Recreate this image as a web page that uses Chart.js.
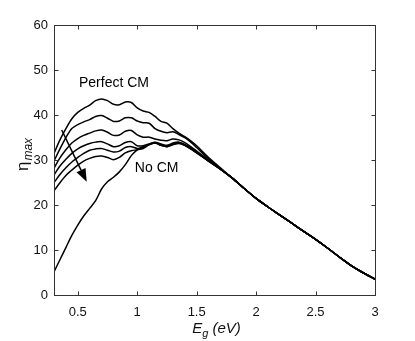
<!DOCTYPE html>
<html><head><meta charset="utf-8">
<script src="https://cdn.jsdelivr.net/npm/chart.js@4"></script>
<style>html,body{margin:0;padding:0;background:#fff}canvas{display:block}</style>
</head><body>
<canvas id="c" width="415" height="341"></canvas>
<script>
const energies = [0.3,0.35,0.4,0.45,0.5,0.55,0.6,0.65,0.7,0.75,0.8,0.85,0.9,0.95,1.0,1.05,1.1,1.15,1.2,1.25,1.3,1.35,1.4,1.45,1.5,1.6,1.7,1.8,1.9,2.0,2.1,2.2,2.3,2.4,2.5,2.6,2.7,2.8,2.9,3.0];
const tail = [26.0,23.7,21.5,19.6,17.8,16.0,14.2,12.4,10.5,8.5,6.6,5.0,3.6];
const perfectCM = [31.5,34.5,37.0,39.2,40.6,41.5,42.2,43.2,43.6,43.2,42.4,42.3,42.9,42.8,41.6,40.9,40.6,39.7,38.6,38.2,37.0,36.0,35.2,34.3,33.2,30.6,28.3].concat(tail);
const cm2 = [29.8,32.5,35.0,37.0,37.9,38.5,39.0,39.7,39.9,39.3,38.6,38.7,39.4,39.4,38.7,38.3,38.2,37.0,36.4,36.1,36.3,35.7,35.0,34.0,32.8,30.3,28.1].concat(tail);
const cm3 = [28.2,30.5,32.3,33.8,34.8,35.5,36.0,36.5,36.7,36.2,35.5,35.6,36.4,36.6,35.6,35.1,35.1,34.7,34.4,34.3,34.7,34.5,33.9,33.0,32.0,30.0,28.0].concat(tail);
const cm4 = [26.7,28.7,30.2,31.5,32.5,33.2,33.7,34.0,34.1,33.6,33.0,33.2,33.9,34.1,33.2,33.2,33.6,34.0,33.6,33.3,33.8,34.0,33.5,32.7,31.8,29.9,28.0].concat(tail);
const cm5 = [25.0,26.8,28.3,29.6,30.6,31.5,32.2,32.5,32.6,32.2,31.8,32.0,32.8,33.0,32.6,32.8,33.5,33.9,33.4,33.1,33.6,33.9,33.4,32.6,31.7,29.8,28.0].concat(tail);
const cm6 = [23.2,25.0,26.6,27.8,28.9,29.8,30.4,30.8,30.9,30.6,30.1,30.6,31.6,32.1,32.3,32.6,33.4,33.8,33.3,33.0,33.5,33.8,33.3,32.5,31.6,29.8,28.0].concat(tail);
const noCM = [5.2,7.9,10.6,13.3,15.6,17.6,19.3,21.0,23.6,25.2,26.2,27.4,29.0,31.0,32.3,33.0,33.5,33.8,33.3,33.0,33.4,33.7,33.3,32.5,31.6,29.8,28.0].concat(tail);
const seriesList = [perfectCM, cm2, cm3, cm4, cm5, cm6, noCM];
const xTicks = [0.5,1,1.5,2,2.5,3];
const yTicks = [0,10,20,30,40,50,60];
const arrowFrom = [0.365, 36.7];
const arrowTo = [0.575, 25.2];
const labelPerfect = ["Perfect CM", 0.51, 46.2];
const labelNo = ["No CM", 0.98, 27.3];

const FONT = '"Liberation Sans", Arial, sans-serif';

const deco = {
  id: 'deco',
  afterDraw(chart) {
    const ctx = chart.ctx, a = chart.chartArea, xs = chart.scales.x, ys = chart.scales.y;
    ctx.save();
    // frame
    ctx.strokeStyle = '#333';
    ctx.lineWidth = 1;
    const L = Math.round(a.left)+0.5, R = Math.round(a.right)+0.5, T = Math.round(a.top)+0.5, B = Math.round(a.bottom)+0.5;
    ctx.strokeRect(L, T, R-L, B-T);
    // inward ticks
    const tl = 4;
    ctx.beginPath();
    xTicks.forEach(v => {
      const px = Math.round(xs.getPixelForValue(v))+0.5;
      ctx.moveTo(px, B); ctx.lineTo(px, B - tl);
      ctx.moveTo(px, T); ctx.lineTo(px, T + tl);
    });
    yTicks.forEach(v => {
      const py = Math.round(ys.getPixelForValue(v))+0.5;
      ctx.moveTo(L, py); ctx.lineTo(L + tl, py);
      ctx.moveTo(R, py); ctx.lineTo(R - tl, py);
    });
    ctx.stroke();
    // arrow
    const x1 = xs.getPixelForValue(arrowFrom[0]), y1 = ys.getPixelForValue(arrowFrom[1]);
    const x2 = xs.getPixelForValue(arrowTo[0]), y2 = ys.getPixelForValue(arrowTo[1]);
    const ang = Math.atan2(y2-y1, x2-x1);
    const hl = 13, hw = 5;
    ctx.strokeStyle = '#000'; ctx.fillStyle = '#000'; ctx.lineWidth = 1.5;
    ctx.beginPath();
    ctx.moveTo(x1, y1);
    ctx.lineTo(x2 - hl*Math.cos(ang), y2 - hl*Math.sin(ang));
    ctx.stroke();
    ctx.beginPath();
    ctx.moveTo(x2, y2);
    ctx.lineTo(x2 - hl*Math.cos(ang) + hw*Math.sin(ang), y2 - hl*Math.sin(ang) - hw*Math.cos(ang));
    ctx.lineTo(x2 - hl*Math.cos(ang) - hw*Math.sin(ang), y2 - hl*Math.sin(ang) + hw*Math.cos(ang));
    ctx.closePath();
    ctx.fill();
    // curve labels
    ctx.font = '14px ' + FONT;
    ctx.textBaseline = 'alphabetic';
    ctx.textAlign = 'left';
    [labelPerfect, labelNo].forEach(l => {
      ctx.fillText(l[0], xs.getPixelForValue(l[1]), ys.getPixelForValue(l[2]));
    });
    // x title: E_g (eV)
    ctx.fillStyle = '#111';
    const cx = (a.left + a.right) / 2;
    ctx.font = 'italic 15px ' + FONT;
    const wE = ctx.measureText('E').width;
    ctx.font = 'italic 11px ' + FONT;
    const wg = ctx.measureText('g').width;
    ctx.font = 'italic 15px ' + FONT;
    const wr = ctx.measureText(' (eV)').width;
    let sx = cx - (wE + wg + wr) / 2 + 2;
    const by = 333;
    ctx.fillText('E', sx, by);
    ctx.font = 'italic 11px ' + FONT;
    ctx.fillText('g', sx + wE, by + 4);
    ctx.font = 'italic 15px ' + FONT;
    ctx.fillText(' (eV)', sx + wE + wg, by);
    // y title: eta_max
    ctx.translate(28, 171);
    ctx.rotate(-Math.PI/2);
    ctx.font = '17px ' + FONT;
    ctx.fillText('\u03B7', 0, 0);
    const we = ctx.measureText('\u03B7').width;
    ctx.font = 'italic 12px ' + FONT;
    ctx.fillText('max', we + 1, 4);
    ctx.restore();
  }
};

new Chart(document.getElementById('c'), {
  type: 'line',
  data: {
    datasets: seriesList.map(s => ({
      data: energies.map((e, i) => ({x: e, y: s[i]})),
      borderColor: '#000',
      borderWidth: 1.5,
      pointRadius: 0,
      fill: false,
      tension: 0.3
    }))
  },
  options: {
    responsive: false,
    animation: false,
    events: [],
    layout: {padding: {left: 0, right: 40, top: 25, bottom: 0}},
    plugins: {legend: {display: false}, tooltip: {enabled: false}},
    scales: {
      x: {
        type: 'linear', min: 0.3, max: 3,
        afterBuildTicks: s => { s.ticks = xTicks.map(v => ({value: v})); },
        afterFit: s => { s.height = 45.7; },
        grid: {display: false, drawTicks: false},
        border: {display: false},
        ticks: {color: '#111', font: {family: FONT, size: 13}, padding: 9, maxRotation: 0,
          callback: v => String(v)}
      },
      y: {
        type: 'linear', min: 0, max: 60,
        afterBuildTicks: s => { s.ticks = yTicks.map(v => ({value: v})); },
        afterFit: s => { s.width = 54; },
        grid: {display: false, drawTicks: false},
        border: {display: false},
        ticks: {color: '#111', font: {family: FONT, size: 13}, padding: 6,
          callback: v => String(v)}
      }
    }
  },
  plugins: [deco]
});
</script>
</body></html>
